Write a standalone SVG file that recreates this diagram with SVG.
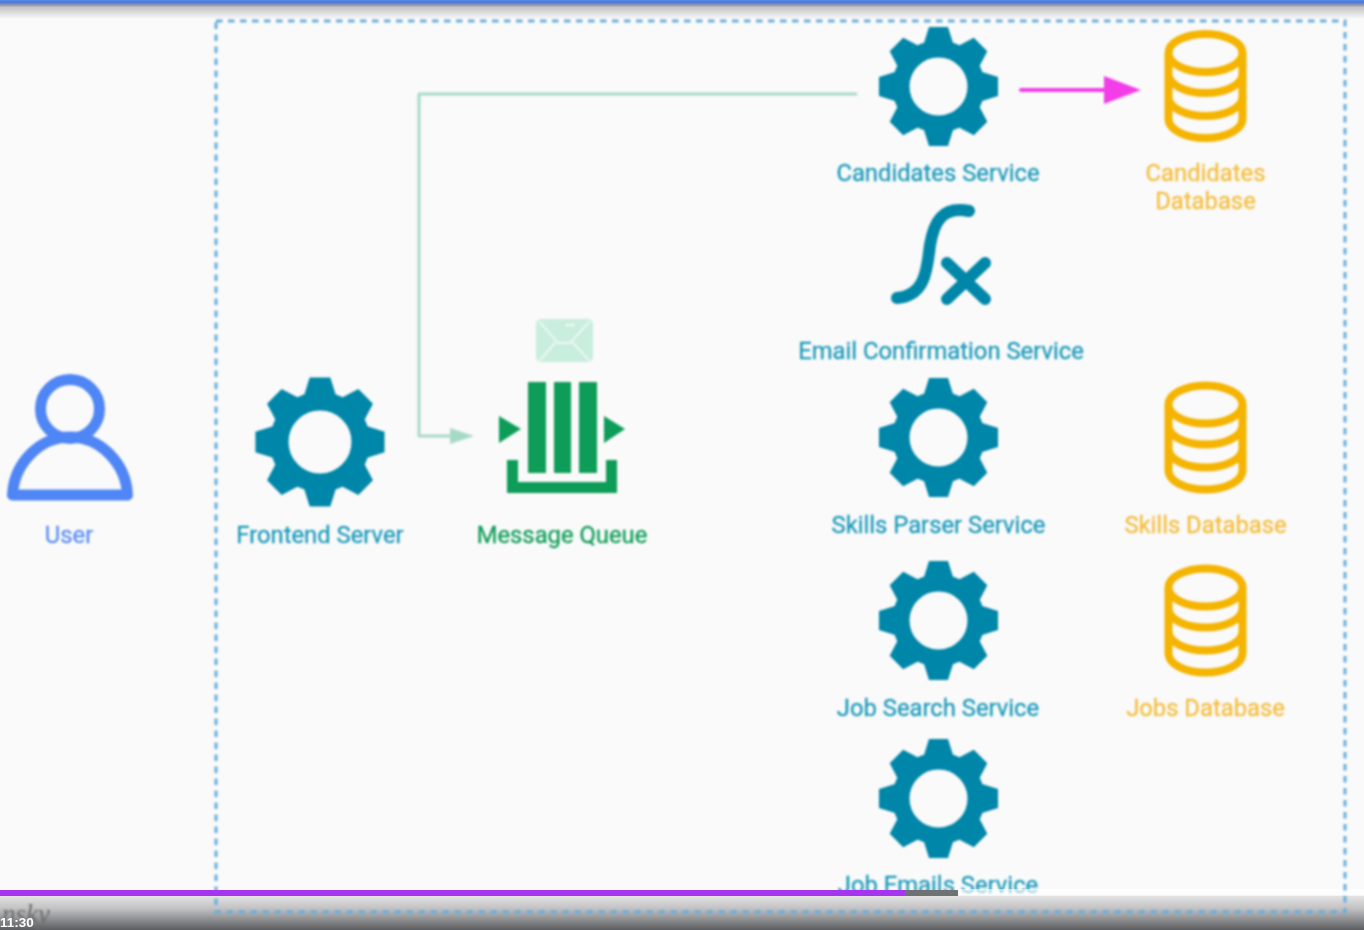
<svg xmlns="http://www.w3.org/2000/svg" width="1364" height="930" viewBox="0 0 1364 930">
<style>
text{font-family:Roboto,"Liberation Sans",sans-serif;font-size:23.8px;text-anchor:middle;stroke-width:.3}
.teal{fill:#1c9abb;stroke:#1c9abb}.org{fill:#f5bd3c;stroke:#f5bd3c}.blue{fill:#5b8ff5;stroke:#5b8ff5}.grn{fill:#0f9d58;stroke:#0f9d58}
.line{fill:none;stroke-linecap:round;stroke-linejoin:round}
</style>
<defs>
<filter id="soft" x="-2%" y="-2%" width="104%" height="104%"><feGaussianBlur stdDeviation="0.8"/></filter>
<linearGradient id="top" x1="0" y1="0" x2="0" y2="1"><stop offset="0" stop-color="#5a88e4"/><stop offset=".12" stop-color="#4a78dc"/><stop offset=".26" stop-color="#8f97a8"/><stop offset=".38" stop-color="#c4c4c4"/><stop offset="1" stop-color="#fafafa"/></linearGradient>
<linearGradient id="bot" x1="0" y1="0" x2="0" y2="1"><stop offset="0" stop-color="#e6e6e6"/><stop offset=".4" stop-color="#c0c0c2"/><stop offset="1" stop-color="#5c5d60"/></linearGradient>
<g id="gear" fill="#0086a8">
<circle r="37.5" fill="none" stroke="#0086a8" stroke-width="17"/>
<path id="t" d="M-9.5-59.5H9.5L15-42H-15Z"/>
<use href="#t" transform="rotate(45)"/><use href="#t" transform="rotate(90)"/><use href="#t" transform="rotate(135)"/><use href="#t" transform="rotate(180)"/><use href="#t" transform="rotate(225)"/><use href="#t" transform="rotate(270)"/><use href="#t" transform="rotate(315)"/>
</g>
<path id="db" fill="none" stroke="#f4b400" stroke-width="8" d="M-37-33A37 19 0 0 1 37-33A37 19 0 0 1-37-33V33A37 19 0 0 0 37 33V-33M-37-12A37 19 0 0 0 37-12M-37 11A37 19 0 0 0 37 11"/>
</defs>
<rect width="1364" height="930" fill="#fafafa"/>
<rect width="1364" height="19" fill="url(#top)"/>
<g filter="url(#soft)">
<g id="connectors" class="line">
<path d="M856 94H419V436H452" stroke="#a7dac5" stroke-width="3"/>
<path d="M450 428L474 436L450 444Z" fill="#a7dac5"/>
<path d="M1021 90H1106" stroke="#f23de8" stroke-width="4"/>
<path d="M1104 76L1141 90L1104 104Z" fill="#f23de8" stroke="none"/>
</g>
<g id="user">
<circle cx="70" cy="409" r="29.5" fill="none" stroke="#4f86f5" stroke-width="11"/>
<path class="line" d="M12.5 495H127.5C126 463 100 437 70 437C40 437 14 463 12.5 495Z" stroke="#4f86f5" stroke-width="11"/>
<text class="blue" x="69" y="543">User</text>
</g>
<g id="frontend-server">
<use href="#gear" transform="translate(320 442) scale(1.085)"/>
<text class="teal" x="320" y="543">Frontend Server</text>
</g>
<g id="message-queue">
<rect x="536" y="319" width="57" height="43" rx="5" fill="#c9eede"/>
<path class="line" d="M540 322L558 343H570L589 322M540 360L555 343M589 360L573 343M566 325H574" stroke="#eefaf4" stroke-width="1.8"/>
<g fill="#0f9d58">
<rect x="528" y="382" width="18" height="91"/><rect x="554" y="382" width="17" height="91"/><rect x="579" y="382" width="18" height="91"/>
<path d="M499 416L521 429L499 443ZM604 416L625 429L604 443Z"/>
<path d="M507 460H518V482H606V460H617V493H507Z"/>
</g>
<text class="grn" x="562" y="543">Message Queue</text>
</g>
<g id="candidates-service">
<use href="#gear" x="938.5" y="86.5"/>
<text class="teal" x="938" y="181">Candidates Service</text>
</g>
<g id="candidates-database">
<use href="#db" x="1205.5" y="86"/>
<text class="org" x="1205.5" y="181">Candidates</text>
<text class="org" x="1205.5" y="209">Database</text>
</g>
<g id="email-confirmation-service">
<path class="line" d="M969 211C942 206 934 222 930 245C927 268 926 296 897 298" stroke="#0086a8" stroke-width="12"/>
<path class="line" d="M947 263L985 299M985 263L947 299" stroke="#0086a8" stroke-width="12"/>
<text class="teal" x="941" y="359">Email Confirmation Service</text>
</g>
<g id="skills-parser-service">
<use href="#gear" x="938.5" y="437.5"/>
<text class="teal" x="938.5" y="533">Skills Parser Service</text>
</g>
<g id="skills-database">
<use href="#db" x="1205.5" y="437.5"/>
<text class="org" x="1205.5" y="533">Skills Database</text>
</g>
<g id="job-search-service">
<use href="#gear" x="938.5" y="620.5"/>
<text class="teal" x="938" y="716">Job Search Service</text>
</g>
<g id="jobs-database">
<use href="#db" x="1205.5" y="620.5"/>
<text class="org" x="1205.5" y="716">Jobs Database</text>
</g>
<g id="job-emails-service">
<use href="#gear" x="938.5" y="798.5"/>
<text class="teal" x="938" y="893">Job Emails Service</text>
</g>
</g>
<rect x="0" y="895" width="1364" height="35" fill="url(#bot)"/>
<rect x="958" y="889" width="406" height="7" fill="#fff" fill-opacity=".6"/>
<text x="2" y="923" filter="url(#soft)" style="font-family:'Liberation Serif',serif;font-style:italic;font-size:27px;text-anchor:start;fill:#6e6e6e;stroke:none">nsky</text>
<rect x="216" y="21" width="1129" height="891" fill="none" stroke="#66aedb" stroke-width="3" stroke-dasharray="6.5 5.5" filter="url(#soft)"/>
<rect x="0" y="890" width="905" height="6" fill="#a535ee"/>
<rect x="905" y="890" width="53" height="6" fill="#6f7274"/>
<text x="0" y="927" style="font-family:'Liberation Sans',sans-serif;font-weight:700;font-size:13.5px;text-anchor:start;fill:#fff;stroke:none">11:30</text>
</svg>
